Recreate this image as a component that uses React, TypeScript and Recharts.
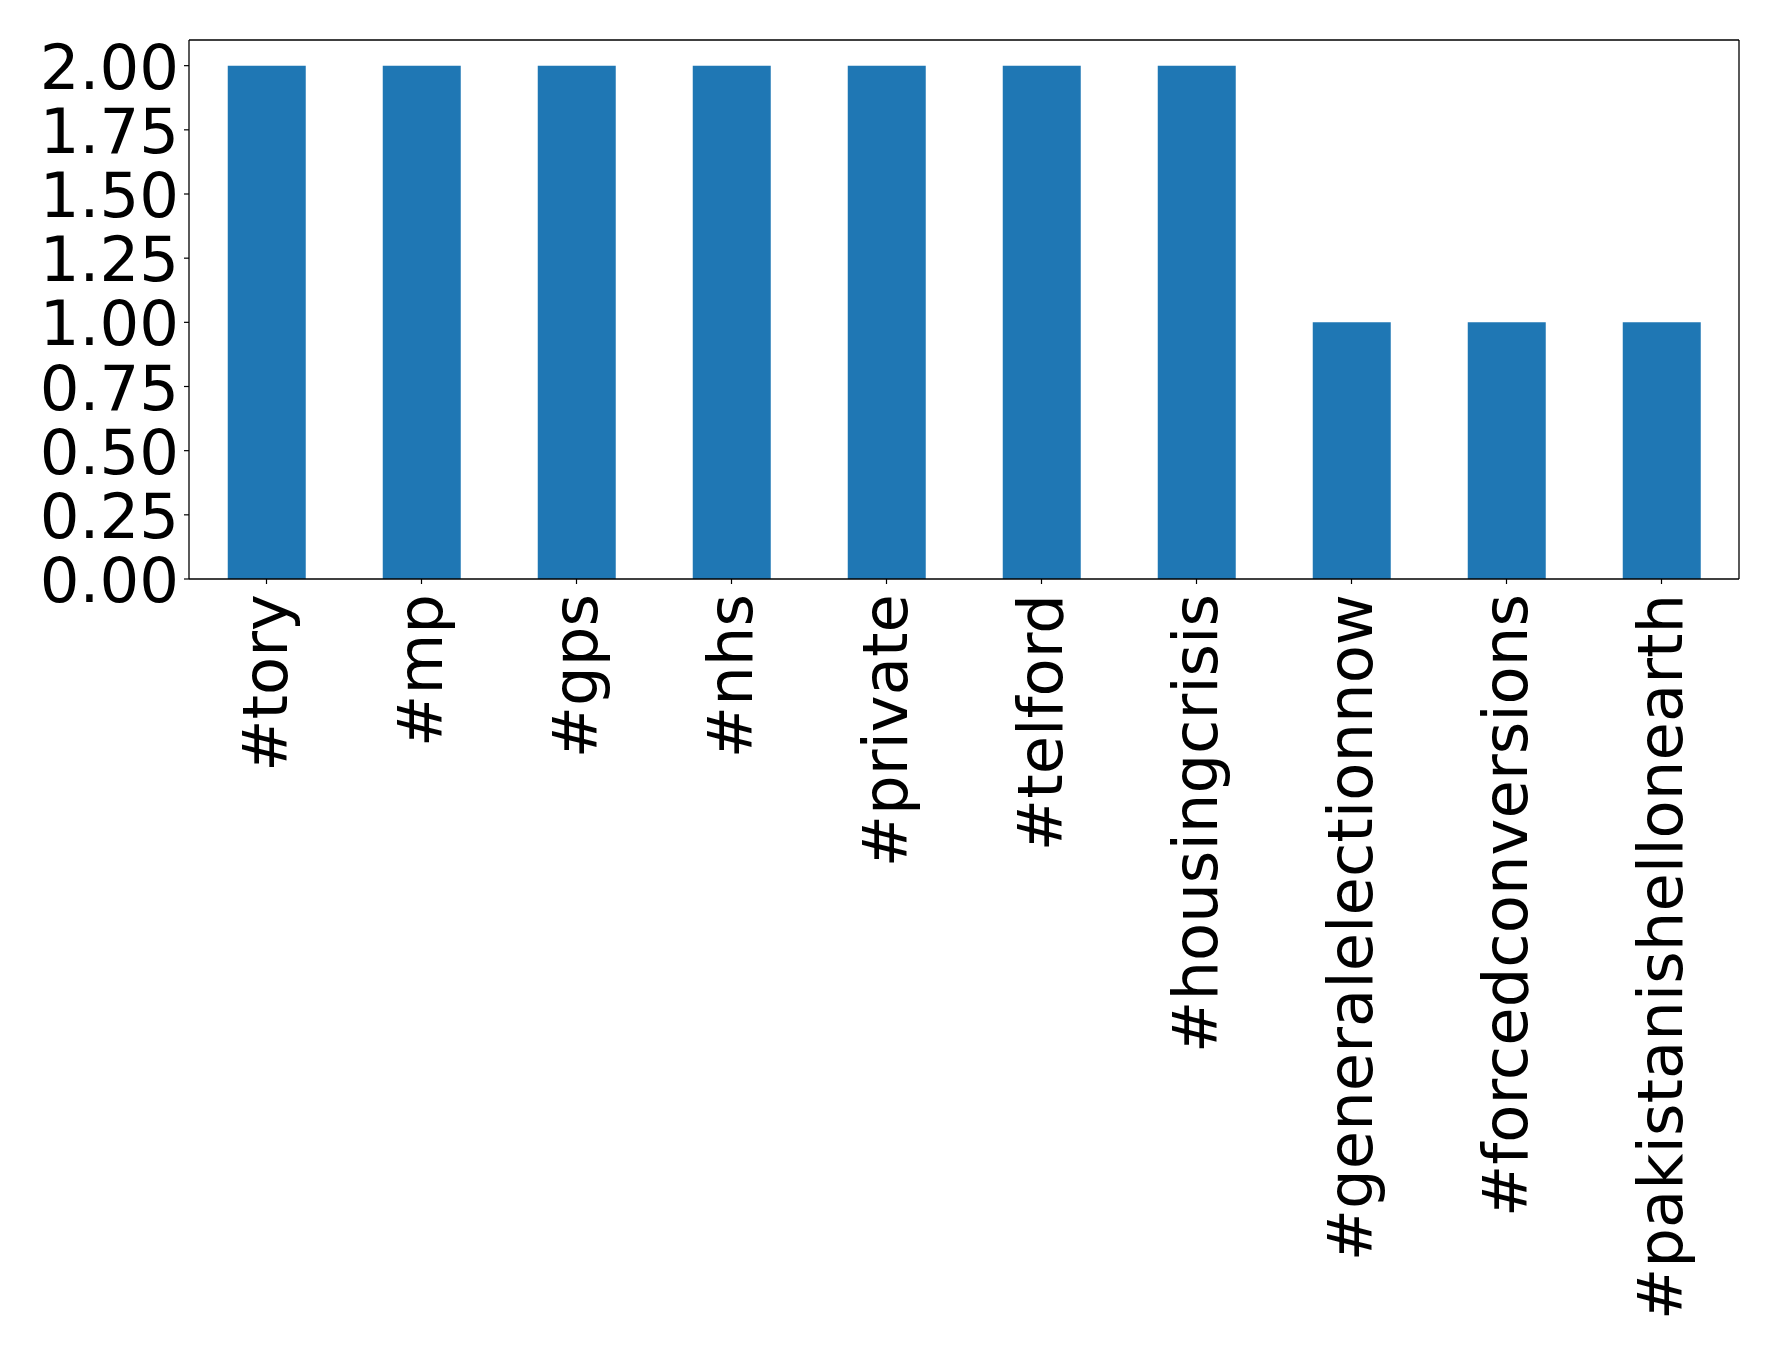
import React from "react";
import { BarChart, Bar, XAxis, YAxis, ReferenceLine } from "recharts";

const categories = [
  "#tory",
  "#mp",
  "#gps",
  "#nhs",
  "#private",
  "#telford",
  "#housingcrisis",
  "#generalelectionnow",
  "#forcedconversions",
  "#pakistanishellonearth",
];
const counts = [2, 2, 2, 2, 2, 2, 2, 1, 1, 1];
const yTicks = [0, 0.25, 0.5, 0.75, 1.0, 1.25, 1.5, 1.75, 2.0];
const yMax = 2.1;

const data = categories.map((c, i) => ({ name: c, value: counts[i] }));

const FONT = "'DejaVu Sans', sans-serif";
const FS = 62.5;

const XTick = (props: any) => {
  const { x, y, payload } = props;
  const ty = y + 5;
  return (
    <text
      x={x}
      y={ty}
      transform={`rotate(-90, ${x}, ${ty})`}
      textAnchor="end"
      dy={20}
      fontFamily={FONT}
      fontSize={FS}
      fill="#000"
    >
      {payload.value}
    </text>
  );
};

const YTick = (props: any) => {
  const { x, y, payload } = props;
  return (
    <text
      x={x}
      y={y}
      textAnchor="end"
      dy={23}
      fontFamily={FONT}
      fontSize={FS}
      fill="#000"
    >
      {Number(payload.value).toFixed(2)}
    </text>
  );
};

export default function App() {
  return (
    <div style={{ position: "absolute", left: 0, top: 0, background: "#fff" }}>
      <BarChart
        width={1778}
        height={1354}
        data={data}
        margin={{ top: 40, right: 39, left: 0, bottom: 0 }}
        barCategoryGap="25%"
      >
        <XAxis
          dataKey="name"
          height={775}
          interval={0}
          tick={<XTick />}
          tickSize={5}
          tickMargin={5}
          stroke="#000"
          axisLine={{ stroke: "#000", strokeWidth: 1.3 }}
          tickLine={{ stroke: "#000", strokeWidth: 1.2 }}
        />
        <YAxis
          width={189}
          domain={[0, yMax]}
          ticks={yTicks}
          interval={0}
          tick={<YTick />}
          tickSize={5}
          tickMargin={5}
          stroke="#000"
          axisLine={{ stroke: "#000", strokeWidth: 1.3 }}
          tickLine={{ stroke: "#000", strokeWidth: 1.2 }}
        />
        <Bar dataKey="value" fill="#1f77b4" isAnimationActive={false} />
        <ReferenceLine y={yMax} stroke="#000" strokeWidth={1.3} ifOverflow="visible" />
        <ReferenceLine
          x={categories[categories.length - 1]}
          position="end"
          stroke="#000"
          strokeWidth={1.3}
          ifOverflow="visible"
        />
      </BarChart>
    </div>
  );
}
